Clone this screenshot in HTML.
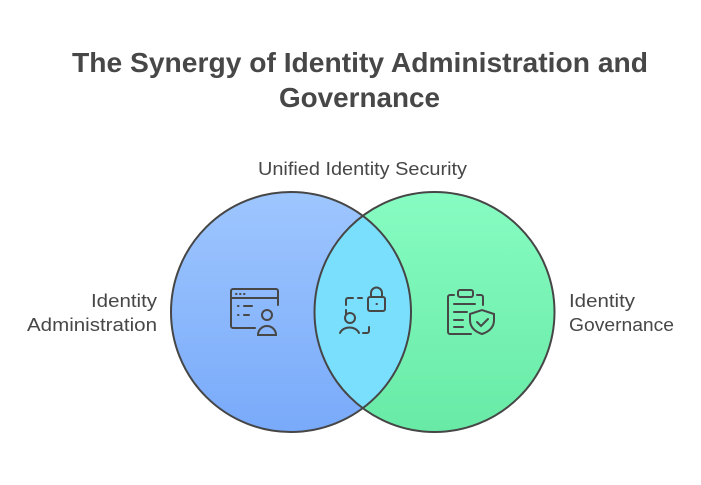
<!DOCTYPE html>
<html><head><style>
body{margin:0;width:701px;height:480px;background:#fff;overflow:hidden;font-family:"Liberation Sans",sans-serif}
</style></head><body>
<svg width="701" height="480" viewBox="0 0 701 480" xmlns="http://www.w3.org/2000/svg">
<defs>
<linearGradient id="gl" x1="0" y1="0" x2="0" y2="1"><stop offset="0" stop-color="#9ec6fe"/><stop offset="1" stop-color="#79aafa"/></linearGradient>
<linearGradient id="gr" x1="0" y1="0" x2="0" y2="1"><stop offset="0" stop-color="#87fcc2"/><stop offset="1" stop-color="#68eaa6"/></linearGradient>
<clipPath id="cl"><circle cx="291" cy="312" r="120"/></clipPath>
</defs>
<text x="72" y="72" textLength="576" lengthAdjust="spacingAndGlyphs" font-size="28" font-weight="bold" fill="#474747">The Synergy of Identity Administration and</text>
<text x="279" y="107" textLength="161" lengthAdjust="spacingAndGlyphs" font-size="28" font-weight="bold" fill="#474747">Governance</text>
<text x="258" y="175" textLength="209" lengthAdjust="spacingAndGlyphs" font-size="18" fill="#474747">Unified Identity Security</text>
<text x="91" y="307" textLength="66" lengthAdjust="spacingAndGlyphs" font-size="18" fill="#474747">Identity</text>
<text x="27" y="331" textLength="130" lengthAdjust="spacingAndGlyphs" font-size="18" fill="#474747">Administration</text>
<text x="569" y="307" textLength="66" lengthAdjust="spacingAndGlyphs" font-size="18" fill="#474747">Identity</text>
<text x="569" y="331" textLength="105" lengthAdjust="spacingAndGlyphs" font-size="18" fill="#474747">Governance</text>
<circle cx="291" cy="312" r="120" fill="url(#gl)"/>
<circle cx="434.5" cy="312" r="120" fill="url(#gr)"/>
<circle cx="434.5" cy="312" r="120" fill="#7adffc" clip-path="url(#cl)"/>
<circle cx="291" cy="312" r="120" fill="none" stroke="#464646" stroke-width="2"/>
<circle cx="434.5" cy="312" r="120" fill="none" stroke="#464646" stroke-width="2"/>
<g fill="none" stroke="#474747" stroke-width="2" stroke-linecap="round">
<path d="M255 328 H233 a2 2 0 0 1 -2 -2 V291 a2 2 0 0 1 2 -2 H276 a2 2 0 0 1 2 2 V305"/>
<line x1="231" y1="298" x2="278" y2="298"/>
<line x1="236" y1="294" x2="236.5" y2="294"/><line x1="240" y1="294" x2="240.5" y2="294"/><line x1="244" y1="294" x2="244.5" y2="294"/>
<line x1="238" y1="306" x2="238.5" y2="306"/><line x1="244" y1="306" x2="252" y2="306"/>
<line x1="238" y1="315" x2="238.5" y2="315"/><line x1="244" y1="315" x2="249" y2="315"/>
<circle cx="267" cy="315" r="5"/>
<path d="M258 335 a9 9 0 0 1 18 0 Z"/>
<path d="M346 305 v-5 a2 2 0 0 1 2 -2 h5 M358 298 h4 M346 310 v4 M363 333 h4 a2 2 0 0 0 2 -2 v-4"/>
<rect x="368" y="297" width="17" height="14" rx="2"/>
<path d="M371 297 v-4 a5.5 5.5 0 0 1 11 0 v4"/>
<line x1="376.5" y1="304" x2="377" y2="304"/>
<circle cx="350" cy="318" r="5"/>
<path d="M340 333 a10 8 0 0 1 19 0"/>
<path d="M454 295 h-4 a2 2 0 0 0 -2 2 V332 a2 2 0 0 0 2 2 H471 M483 305 V297 a2 2 0 0 0 -2 -2 h-4"/>
<rect x="458" y="290" width="15" height="7" rx="2"/>
<line x1="454" y1="304" x2="475" y2="304"/>
<line x1="454" y1="312" x2="467" y2="312"/>
<line x1="454" y1="320" x2="463" y2="320"/>
<line x1="454" y1="327" x2="463" y2="327"/>
<path d="M470 314 l12 -4 l12 4 v6 c0 8 -6 12 -12 14 c-6 -2 -12 -6 -12 -14 Z"/>
<path d="M477 322 l4 4 l7 -7"/>
</g>
</svg>
</body></html>
